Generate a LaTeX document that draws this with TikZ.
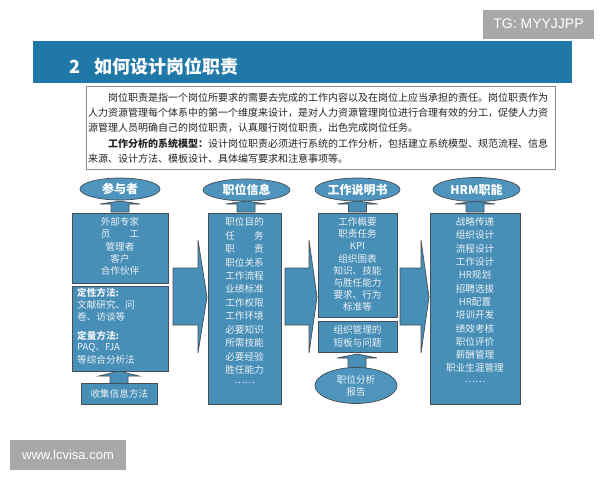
\documentclass[tikz,border=0pt]{standalone}
\usepackage{fontspec}
\setmainfont{Liberation Sans}
\newfontfamily\cjk{Noto Sans CJK SC}
\usetikzlibrary{shapes.geometric}
\definecolor{hdr}{RGB}{32,120,168}
\definecolor{boxc}{RGB}{72,143,183}
\definecolor{ellc}{RGB}{78,148,188}
\definecolor{bordc}{RGB}{70,78,88}
\definecolor{txtc}{RGB}{236,242,246}
\definecolor{wm}{RGB}{168,168,168}
\definecolor{para}{RGB}{35,35,35}
\tikzset{
  blk/.style={draw=bordc, fill=boxc, line width=0.7pt, inner sep=0pt},
  elli/.style={ellipse, draw=bordc, fill=ellc, line width=0.7pt, inner sep=0pt, text=white, font=\cjk\bfseries\fontsize{12}{13}\selectfont},
  arr/.style={draw=bordc, fill=boxc, line width=0.7pt, line join=miter},
  ctxt/.style={text=txtc, inner sep=0pt, font=\cjk\fontsize{9.6}{11}\selectfont},
  ptxt/.style={text=para, inner sep=0pt, anchor=west, font=\cjk\fontsize{10}{11}\selectfont},
  wmbox/.style={fill=wm, inner sep=0pt, text=white}
}
\begin{document}
\begin{tikzpicture}[x=1pt,y=-1pt]
\useasboundingbox (0,0) rectangle (600,480);
\fill[white] (0,0) rectangle (600,480);
% watermarks
\node[wmbox, minimum width=111pt, minimum height=29pt, font=\fontsize{14}{15}\selectfont] (tg) at (538.5,24) {TG: MYYJJPP};
\node[wmbox, minimum width=116pt, minimum height=30pt, font=\fontsize{13}{14}\selectfont] (www) at (68,455) {www.lcvisa.com};
% header
\node[fill=hdr, minimum width=539pt, minimum height=42pt, inner sep=0pt] (hdr) at (302.5,62) {};
\node[text=white, anchor=west, inner sep=0pt, font=\cjk\bfseries\fontsize{18}{20}\selectfont] (title) at (69,67) {2\hspace{14pt}如何设计岗位职责};
% paragraph box
\node[draw={rgb,255:red,140;green,140;blue,140}, fill=white, line width=0.8pt, minimum width=469pt, minimum height=83pt, inner sep=0pt] (pbox) at (320.5,127.5) {};
\node[ptxt] (p1) at (88,98) {　　岗位职责是指一个岗位所要求的需要去完成的工作内容以及在岗位上应当承担的责任。岗位职责作为};
\node[ptxt] (p2) at (88,113) {人力资源管理每个体系中的第一个维度来设计，是对人力资源管理岗位进行合理有效的分工，促使人力资};
\node[ptxt] (p3) at (88,128) {源管理人员明确自己的岗位职责，认真履行岗位职责，出色完成岗位任务。};
\node[ptxt] (p4) at (88,144) {　　\textbf{工作分析的系统模型：}设计岗位职责必须进行系统的工作分析，包括建立系统模型、规范流程、信息};
\node[ptxt] (p5) at (88,159) {来源、设计方法、模板设计、具体编写要求和注意事项等。};
% small tabs (flat block arrows)
\foreach \cx/\tp/\bs/\bt/\nm in {120/201/204/212/t1, 246/201/204/212/t2, 357.5/201/204/212/t3, 475/201/204/212/t4, 119/371/376/385/t5, 357/354/358/368/t6}{
  \draw[arr] (\cx-9,\bt) -- (\cx-9,\bs) -- (\cx-20,\bs) -- (\cx,\tp) -- (\cx+20,\bs) -- (\cx+9,\bs) -- (\cx+9,\bt) -- cycle;
}
% big block arrows
\draw[arr] (173,268) -- (198,268) -- (198,240) -- (207,297) -- (198,353) -- (198,325) -- (173,325) -- cycle;
\draw[arr] (285,268) -- (309,268) -- (309,240) -- (317,297) -- (309,353) -- (309,325) -- (285,325) -- cycle;
\draw[arr] (400,268) -- (421,268) -- (421,240) -- (429,297) -- (421,353) -- (421,325) -- (400,325) -- cycle;
% ellipses
\node[elli, minimum width=80pt, minimum height=22pt] (e1) at (120,189) {参与者};
\node[elli, minimum width=87pt, minimum height=22pt] (e2) at (246.5,190) {职位信息};
\node[elli, minimum width=85pt, minimum height=23pt] (e3) at (357.5,189.5) {工作说明书};
\node[elli, minimum width=87pt, minimum height=24pt] (e4) at (476.5,189.5) {HRM职能};
\node[elli, minimum width=82pt, minimum height=36pt, font=\cjk\fontsize{9.6}{12}\selectfont, text=txtc, align=center] (e5) at (356,385.5) {职位分析\\报告};
% column 1
\node[blk, anchor=north west, minimum width=96pt, minimum height=70pt] (b1u) at (72,213) {};
\node[blk, anchor=north west, minimum width=96pt, minimum height=85pt] (b1l) at (72,286) {};
\node[blk, anchor=north west, minimum width=76pt, minimum height=21pt] (b1b) at (81,383) {};
\node[ctxt] (b1bt) at (b1b.center) {收集信息方法};
\foreach \t [count=\i from 0] in {外部专家,员　　工,管理者,客户,合作伙伴}
  \node[ctxt] (c1u\i) at (120,222+12.2*\i) {\t};
\node[ctxt, anchor=west] (c1a) at (77,293) {\textbf{定性方法:}};
\node[ctxt, anchor=west] (c1b) at (77,305) {文献研究、问};
\node[ctxt, anchor=west] (c1c) at (77,317) {卷、访谈等};
\node[ctxt, anchor=west] (c1d) at (77,336) {\textbf{定量方法:}};
\node[ctxt, anchor=west] (c1e) at (77,348) {PAQ、FJA};
\node[ctxt, anchor=west] (c1f) at (77,359.5) {等综合分析法};
% column 2
\node[blk, anchor=north west, minimum width=73pt, minimum height=191pt] (b2) at (208,213) {};
\foreach \t [count=\i from 0] in {职位目的,任　　务,职　　责,职位关系,工作流程,业绩标准,工作权限,工作环境,必要知识,所需技能,必要经验,胜任能力,……}
  \node[ctxt] (c2\i) at (244.5,222+13.45*\i) {\t};
% column 3
\node[blk, anchor=north west, minimum width=79pt, minimum height=104pt] (b3u) at (318,213) {};
\node[blk, anchor=north west, minimum width=79pt, minimum height=31pt] (b3l) at (318,321) {};
\foreach \t [count=\i from 0] in {工作概要,职责任务,KPI,组织图表,知识、技能,与胜任能力,要求、行为,标准等}
  \node[ctxt] (c3\i) at (357.5,222+12.15*\i) {\t};
\node[ctxt] (c3a) at (357.5,330) {组织管理的};
\node[ctxt] (c3b) at (357.5,342.5) {短板与问题};
% column 4
\node[blk, anchor=north west, minimum width=90pt, minimum height=191pt] (b4) at (430,213) {};
\foreach \t [count=\i from 0] in {战略传递,组织设计,流程设计,工作设计,HR规划,招聘选拔,HR配置,培训开发,绩效考核,职位评价,薪酬管理,职业生涯管理,……}
  \node[ctxt] (c4\i) at (475,222+13.3*\i) {\t};
\end{tikzpicture}
\end{document}
